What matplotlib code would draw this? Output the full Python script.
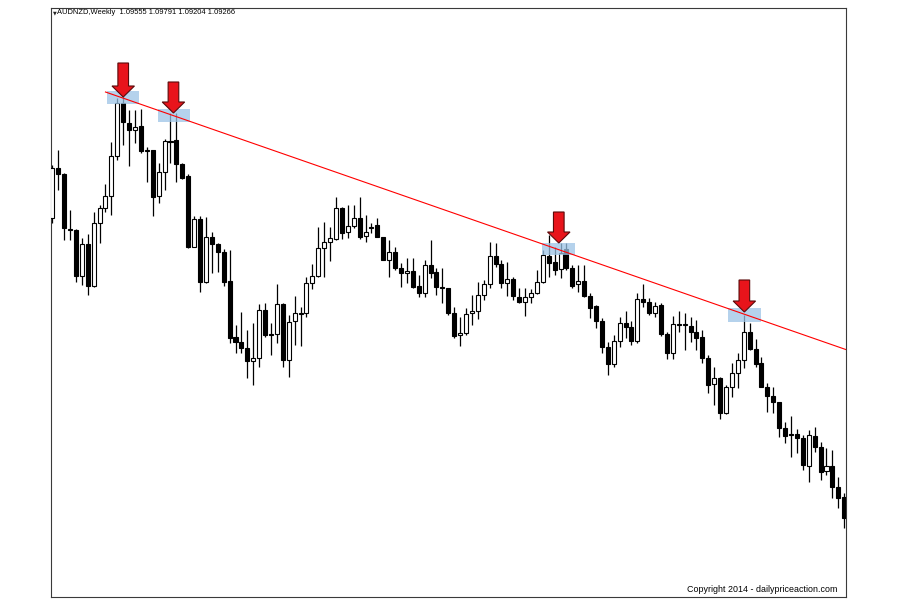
import numpy as np
import matplotlib
matplotlib.use("Agg")
import matplotlib.pyplot as plt
from matplotlib.patches import Rectangle, FancyArrow

# weekly AUDNZD candles
opens = [1.382, 1.432, 1.426, 1.371, 1.370, 1.324, 1.356, 1.314, 1.377, 1.392,
         1.404, 1.444, 1.497, 1.477, 1.470, 1.474, 1.449, 1.450, 1.404, 1.428,
         1.459, 1.460, 1.436, 1.424, 1.353, 1.381, 1.318, 1.363, 1.356, 1.348,
         1.319, 1.263, 1.258, 1.252, 1.239, 1.242, 1.290, 1.266, 1.266, 1.296,
         1.240, 1.279, 1.286, 1.287, 1.317, 1.324, 1.352, 1.358, 1.361, 1.392,
         1.368, 1.374, 1.382, 1.364, 1.373, 1.375, 1.363, 1.340, 1.348, 1.332,
         1.327, 1.329, 1.314, 1.307, 1.335, 1.328, 1.313, 1.312, 1.287, 1.265,
         1.267, 1.287, 1.289, 1.305, 1.316, 1.344, 1.336, 1.317, 1.321, 1.303,
         1.298, 1.303, 1.307, 1.318, 1.344, 1.338, 1.331, 1.351, 1.332, 1.316,
         1.319, 1.304, 1.294, 1.279, 1.253, 1.236, 1.259, 1.277, 1.273, 1.259,
         1.301, 1.298, 1.287, 1.295, 1.266, 1.247, 1.276, 1.275, 1.274, 1.268,
         1.263, 1.242, 1.216, 1.222, 1.187, 1.213, 1.227, 1.240, 1.268, 1.251,
         1.237, 1.213, 1.204, 1.198, 1.172, 1.166, 1.166, 1.162, 1.134, 1.164,
         1.153, 1.129, 1.134, 1.113, 1.103]
highs = [1.435, 1.450, 1.427, 1.390, 1.371, 1.362, 1.366, 1.388, 1.395, 1.416,
         1.458, 1.502, 1.504, 1.490, 1.490, 1.491, 1.453, 1.450, 1.437, 1.461,
         1.487, 1.487, 1.437, 1.426, 1.384, 1.384, 1.383, 1.368, 1.357, 1.351,
         1.350, 1.275, 1.288, 1.270, 1.277, 1.296, 1.297, 1.277, 1.316, 1.297,
         1.285, 1.304, 1.293, 1.323, 1.336, 1.373, 1.378, 1.373, 1.403, 1.393,
         1.395, 1.395, 1.403, 1.385, 1.377, 1.382, 1.363, 1.360, 1.353, 1.337,
         1.342, 1.342, 1.325, 1.340, 1.360, 1.332, 1.332, 1.312, 1.293, 1.283,
         1.292, 1.305, 1.318, 1.320, 1.358, 1.357, 1.340, 1.338, 1.323, 1.312,
         1.312, 1.311, 1.330, 1.350, 1.365, 1.353, 1.357, 1.357, 1.335, 1.335,
         1.335, 1.307, 1.295, 1.282, 1.258, 1.265, 1.283, 1.289, 1.279, 1.307,
         1.316, 1.302, 1.298, 1.297, 1.268, 1.284, 1.289, 1.287, 1.283, 1.280,
         1.270, 1.245, 1.233, 1.223, 1.215, 1.237, 1.247, 1.285, 1.277, 1.261,
         1.243, 1.217, 1.213, 1.198, 1.178, 1.184, 1.171, 1.165, 1.170, 1.173,
         1.158, 1.152, 1.150, 1.123, 1.107]
lows = [1.377, 1.410, 1.360, 1.360, 1.318, 1.315, 1.305, 1.313, 1.357, 1.388,
        1.385, 1.440, 1.455, 1.434, 1.457, 1.447, 1.418, 1.384, 1.397, 1.410,
        1.437, 1.418, 1.421, 1.352, 1.353, 1.308, 1.317, 1.327, 1.328, 1.314,
        1.257, 1.247, 1.247, 1.222, 1.215, 1.233, 1.263, 1.245, 1.257, 1.233,
        1.223, 1.255, 1.254, 1.283, 1.311, 1.323, 1.323, 1.339, 1.360, 1.361,
        1.362, 1.372, 1.361, 1.358, 1.367, 1.363, 1.340, 1.323, 1.330, 1.313,
        1.317, 1.312, 1.303, 1.303, 1.322, 1.305, 1.297, 1.285, 1.262, 1.254,
        1.265, 1.275, 1.281, 1.300, 1.312, 1.333, 1.312, 1.304, 1.300, 1.297,
        1.284, 1.297, 1.306, 1.317, 1.323, 1.325, 1.322, 1.330, 1.312, 1.308,
        1.303, 1.282, 1.272, 1.247, 1.225, 1.233, 1.253, 1.262, 1.255, 1.257,
        1.293, 1.285, 1.283, 1.264, 1.241, 1.241, 1.268, 1.250, 1.258, 1.250,
        1.237, 1.207, 1.195, 1.181, 1.186, 1.203, 1.212, 1.232, 1.250, 1.233,
        1.213, 1.188, 1.187, 1.163, 1.157, 1.143, 1.147, 1.130, 1.118, 1.148,
        1.120, 1.125, 1.102, 1.092, 1.072]
closes = [1.432, 1.426, 1.372, 1.370, 1.324, 1.356, 1.314, 1.377, 1.392, 1.404,
          1.444, 1.497, 1.478, 1.470, 1.473, 1.449, 1.450, 1.403, 1.428, 1.459,
          1.458, 1.436, 1.422, 1.353, 1.381, 1.318, 1.363, 1.356, 1.348, 1.318,
          1.262, 1.258, 1.252, 1.239, 1.242, 1.290, 1.265, 1.265, 1.296, 1.240,
          1.278, 1.287, 1.287, 1.317, 1.324, 1.352, 1.358, 1.362, 1.392, 1.367,
          1.374, 1.382, 1.363, 1.368, 1.372, 1.363, 1.340, 1.348, 1.332, 1.327,
          1.329, 1.313, 1.307, 1.335, 1.327, 1.313, 1.312, 1.287, 1.264, 1.267,
          1.286, 1.289, 1.305, 1.316, 1.344, 1.336, 1.317, 1.321, 1.304, 1.298,
          1.303, 1.307, 1.318, 1.345, 1.337, 1.330, 1.347, 1.332, 1.314, 1.319,
          1.304, 1.292, 1.279, 1.253, 1.236, 1.259, 1.277, 1.273, 1.259, 1.301,
          1.298, 1.287, 1.294, 1.266, 1.247, 1.276, 1.275, 1.276, 1.268, 1.262,
          1.242, 1.215, 1.222, 1.187, 1.213, 1.227, 1.240, 1.268, 1.251, 1.236,
          1.213, 1.204, 1.198, 1.172, 1.164, 1.165, 1.162, 1.135, 1.165, 1.153,
          1.128, 1.134, 1.113, 1.102, 1.082]

# resistance trend line (bar index, price)
trend_x = [9.0, 134.5]
trend_y = [1.508, 1.250]

# touches: highlight boxes (left, right, bottom, top) and arrow (bar, tip, tail)
box_left = [9.3, 17.9, 82.9, 114.4]
box_right = [14.6, 23.3, 88.4, 119.9]
box_bottom = [1.496, 1.478, 1.345, 1.278]
box_top = [1.509, 1.491, 1.357, 1.292]
arrow_x = [12.0, 20.5, 85.7, 117.1]
arrow_tip = [1.503, 1.487, 1.357, 1.288]
arrow_tail = [1.537, 1.518, 1.388, 1.320]

header = "AUDNZD,Weekly  1.09555 1.09791 1.09204 1.09266"
copyright_txt = "Copyright 2014 - dailypriceaction.com"

o = np.array(opens)
h = np.array(highs)
l = np.array(lows)
c = np.array(closes)
x = np.arange(len(o))

fig = plt.figure(figsize=(9, 6), dpi=100)
fig.patch.set_facecolor("white")
ax = fig.add_axes([51/900, 3/600, 795/900, 589/600])

# wicks then bodies
ax.vlines(x, l, h, color="black", linewidth=0.9, zorder=2)
up = c >= o
bottom = np.minimum(o, c)
height = np.maximum(np.abs(c - o), 0.0012)
ax.bar(x[up], height[up], bottom=bottom[up], width=0.68, color="white",
       edgecolor="black", linewidth=0.8, zorder=3)
ax.bar(x[~up], height[~up], bottom=bottom[~up], width=0.68, color="black",
       edgecolor="black", linewidth=0.8, zorder=3)

for i in range(len(box_left)):
    ax.add_patch(Rectangle((box_left[i], box_bottom[i]), box_right[i] - box_left[i],
                           box_top[i] - box_bottom[i], facecolor="#9cc4e6",
                           edgecolor="none", alpha=0.75, zorder=4))

ax.plot(trend_x, trend_y, color="#ff0000", linewidth=0.8, zorder=5)

for i in range(len(arrow_x)):
    ax.add_patch(FancyArrow(arrow_x[i], arrow_tail[i], 0, arrow_tip[i] - arrow_tail[i],
                            width=1.8, head_width=3.8, head_length=0.011,
                            length_includes_head=True, facecolor="#e8141b",
                            edgecolor="#5a0a0a", linewidth=0.8, zorder=6))

ax.set_xlim(-0.22, 134.3)
ax.set_ylim(1.003, 1.592)
ax.set_xticks([])
ax.set_yticks([])
for s in ax.spines.values():
    s.set_color("#3a3a3a")
    s.set_linewidth(0.8)

fig.text(52.5/900, 1 - 13/600, "\u25bc", fontsize=3.5, va="center", ha="left",
         color="#222222")
fig.text(57/900, 1 - 13/600, header, fontsize=5.4, va="center", ha="left",
         family="Liberation Sans", color="black")
fig.text(837/900, 1 - 589.5/600, copyright_txt, fontsize=6.4, va="center", ha="right",
         family="Liberation Sans", color="black")

fig.savefig("out.png", dpi=100)
